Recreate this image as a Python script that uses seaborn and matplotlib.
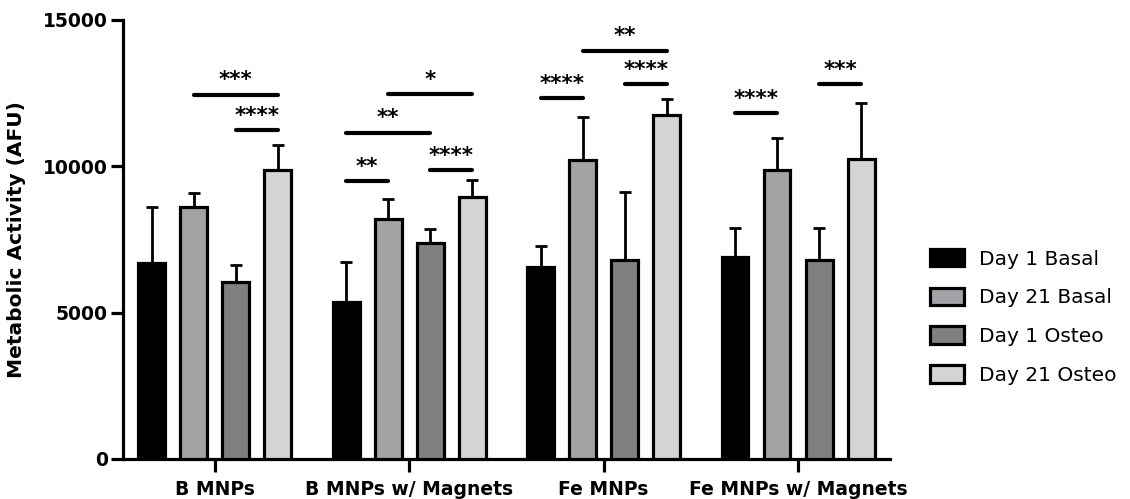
import numpy as np
import pandas as pd
import matplotlib
matplotlib.use("Agg")
import matplotlib.pyplot as plt
import seaborn as sns
from matplotlib.patches import Patch

categories = ["B MNPs", "B MNPs w/ Magnets", "Fe MNPs", "Fe MNPs w/ Magnets"]
series = ["Day 1 Basal", "Day 21 Basal", "Day 1 Osteo", "Day 21 Osteo"]
colors = ["#000000", "#a2a2a6", "#808080", "#d4d4d4"]

day1_basal = [6700, 5350, 6550, 6890]
day21_basal = [8610, 8200, 10200, 9870]
day1_osteo = [6060, 7380, 6790, 6790]
day21_osteo = [9870, 8960, 11740, 10240]

day1_basal_err = [1910, 1370, 740, 1000]
day21_basal_err = [480, 690, 1500, 1110]
day1_osteo_err = [570, 490, 2340, 1090]
day21_osteo_err = [860, 570, 570, 1930]

# significance brackets: category index, first series, second series, height, label
sig_cat = [0, 0, 1, 1, 1, 1, 2, 2, 2, 3, 3]
sig_a = [1, 2, 0, 0, 1, 2, 0, 1, 2, 0, 2]
sig_b = [3, 3, 1, 2, 3, 3, 1, 3, 3, 1, 3]
sig_y = [12440, 11240, 9490, 11150, 12460, 9870, 12320, 13950, 12800, 11810, 12800]
sig_label = ["***", "****", "**", "**", "*", "****", "****", "**", "****", "****", "***"]

values = [day1_basal, day21_basal, day1_osteo, day21_osteo]
errors = [day1_basal_err, day21_basal_err, day1_osteo_err, day21_osteo_err]

rows = []
for s, vals in zip(series, values):
    for c, v in zip(categories, vals):
        rows.append({"Group": c, "Condition": s, "Value": v})
df = pd.DataFrame(rows)

sns.set_theme(style="ticks")
plt.rcParams["font.family"] = ["DejaVu Sans"]
plt.rcParams["text.color"] = "black"
plt.rcParams["axes.labelcolor"] = "black"
plt.rcParams["xtick.color"] = "black"
plt.rcParams["ytick.color"] = "black"

fig = plt.figure(figsize=(11.3, 4.99), dpi=100)
ax = fig.add_axes([0.1088, 0.0802, 0.6788, 0.8798])

sns.barplot(data=df, x="Group", y="Value", hue="Condition", order=categories,
            hue_order=series, palette=colors, width=0.865, gap=0.36,
            edgecolor="black", linewidth=2.3, errorbar=None, ax=ax, legend=False,
            zorder=3)

bar_containers = list(ax.containers)
centers = {}
for si, container in enumerate(bar_containers):
    xs = [p.get_x() + p.get_width() / 2 for p in container.patches]
    centers[si] = xs
    tops = [p.get_height() for p in container.patches]
    err = errors[si]
    ax.errorbar(xs, tops, yerr=[np.zeros(len(err)), err], fmt="none",
                ecolor="black", elinewidth=2.0, capsize=4.5, capthick=2.0, zorder=2)

for c, a, b, y, lab in zip(sig_cat, sig_a, sig_b, sig_y, sig_label):
    x0 = centers[a][c]
    x1 = centers[b][c]
    ax.plot([x0, x1], [y, y], color="black", lw=3.0, solid_capstyle="round", zorder=4)
    ax.text((x0 + x1) / 2, y + 150, lab, ha="center", va="bottom",
            fontsize=15.5, fontweight="bold")

ax.set_ylim(0, 15000)
ax.set_xlim(-0.473, 3.473)
ax.set_yticks([0, 5000, 10000, 15000])
ax.set_yticklabels(["0", "5000", "10000", "15000"], fontsize=13.5, fontweight="bold")
ax.set_xticks(range(len(categories)))
ax.set_xticklabels(categories, fontsize=13.5, fontweight="bold")
ax.set_xlabel("")
ax.set_ylabel("Metabolic Activity (AFU)", fontsize=14.5, fontweight="bold", labelpad=12)
for sp in ["top", "right"]:
    ax.spines[sp].set_visible(False)
for sp in ["left", "bottom"]:
    ax.spines[sp].set_linewidth(2.3)
    ax.spines[sp].set_color("black")
ax.tick_params(axis="both", width=2.3, length=9, color="black")
ax.tick_params(axis="y", pad=2)
ax.tick_params(axis="x", pad=6)

handles = [Patch(facecolor=col, edgecolor="black", linewidth=2.3, label=s)
           for s, col in zip(series, colors)]
fig.legend(handles=handles, loc="center left", bbox_to_anchor=(0.823, 0.365),
           frameon=False, prop={"size": 14.5, "weight": "normal"}, borderpad=0,
           borderaxespad=0, handlelength=1.7, handleheight=0.95,
           labelspacing=0.95, handletextpad=0.75)

fig.savefig("out.png", dpi=100)
